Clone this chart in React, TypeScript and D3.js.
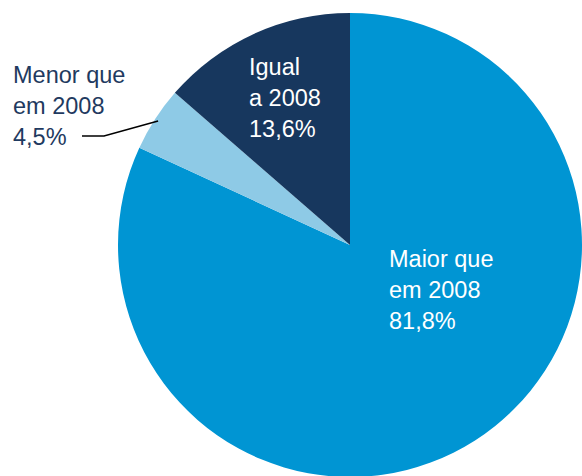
import React from "react";
import * as d3 from "d3";

const categories = ["Maior que em 2008", "Menor que em 2008", "Igual a 2008"];
const values = [81.8, 4.5, 13.6];
const labelLines = [
  ["Maior que", "em 2008", "81,8%"],
  ["Menor que", "em 2008", "4,5%"],
  ["Igual", "a 2008", "13,6%"],
];
const colors = ["#0095D3", "#8ECAE6", "#17375E"];

export default function App() {
  const W = 582, H = 476;
  const cx = 350, cy = 245, r = 232;
  const data = categories.map((c, i) => ({ c, v: values[i], i }));
  const pie = d3.pie<any>().value((d) => d.v).sort(null).startAngle(0).endAngle(2 * Math.PI);
  const arcs = pie(data);
  const arc = d3.arc<any>().innerRadius(0).outerRadius(r);
  const labelPos = [
    { x: 389, y: 267, fill: "#ffffff" },
    { x: 13, y: 83, fill: "#1F3A60" },
    { x: 249, y: 75, fill: "#ffffff" },
  ];
  const menor = arcs[1];
  const mid = (menor.startAngle + menor.endAngle) / 2;
  const lr = r * 0.985;
  const px = cx + lr * Math.sin(mid);
  const py = cy - lr * Math.cos(mid);
  return (
    <svg width={W} height={H} style={{ position: "absolute", left: 0, top: 0 }}>
      <g transform={`translate(${cx},${cy})`}>
        {arcs.map((a, i) => (
          <path key={i} d={arc(a) as string} fill={colors[i]} />
        ))}
      </g>
      <polyline
        points={`82,136 104,136 ${px},${py}`}
        fill="none"
        stroke="#000"
        strokeWidth={1.5}
      />
      {labelLines.map((lines, i) => (
        <text
          key={i}
          x={labelPos[i].x}
          y={labelPos[i].y}
          fill={labelPos[i].fill}
          fontFamily="'Liberation Sans', Arial, sans-serif"
          fontSize={23.5}
        >
          {lines.map((l, j) => (
            <tspan key={j} x={labelPos[i].x} dy={j === 0 ? 0 : 31}>
              {l}
            </tspan>
          ))}
        </text>
      ))}
    </svg>
  );
}
